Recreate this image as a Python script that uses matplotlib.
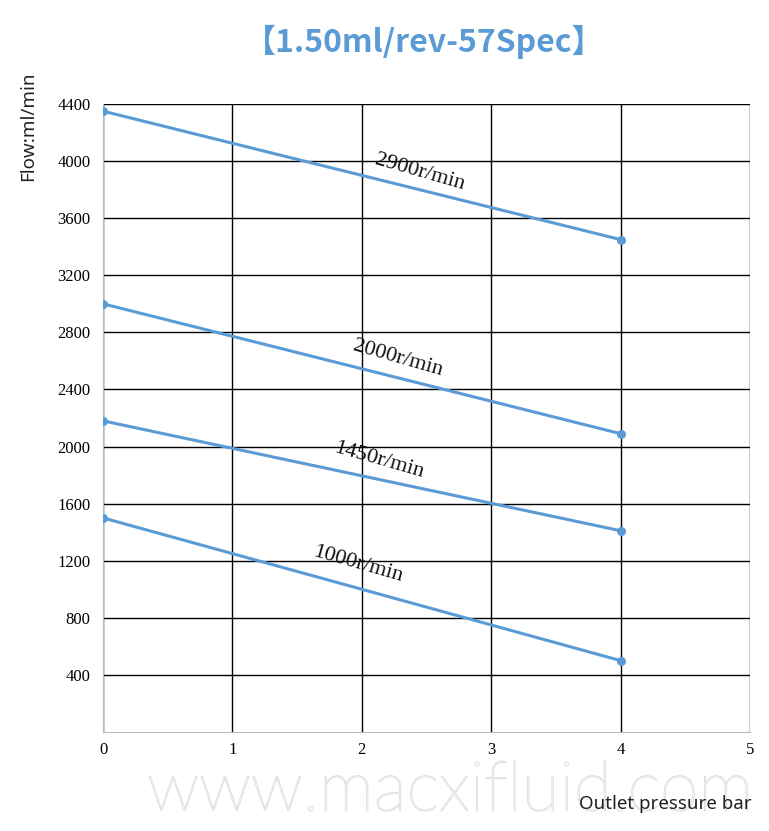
import matplotlib
matplotlib.use("Agg")
import matplotlib.pyplot as plt
import matplotlib.patheffects as pe

# pressure (bar) and flow (ml/min) per motor speed
pressure = [0, 4]
speeds = ["2900r/min", "2000r/min", "1450r/min", "1000r/min"]
flow_2900 = [4350, 3450]
flow_2000 = [3000, 2090]
flow_1450 = [2180, 1410]
flow_1000 = [1500, 500]
label_pos = [(2.45, 3920), (2.28, 2620), (2.13, 1905), (1.97, 1175)]

x_ticks = [0, 1, 2, 3, 4, 5]
y_ticks = [400, 800, 1200, 1600, 2000, 2400, 2800, 3200, 3600, 4000, 4400]

blue = "#5b9bd5"

fig = plt.figure(figsize=(7.69, 8.31), dpi=100)

# watermark behind everything
fig.text(450 / 769, 1 - 792 / 831, "www.macxifluid.com", ha="center", va="center",
         fontsize=50, family=["Lato", "DejaVu Sans"], fontweight="light",
         color="#f6f6f6", zorder=0,
         path_effects=[pe.withStroke(linewidth=1.0, foreground="#dadada")])

ax = fig.add_axes([103 / 769, 1 - 732 / 831, 647 / 769, 628 / 831])
ax.patch.set_alpha(0)

for flow in [flow_2900, flow_2000, flow_1450, flow_1000]:
    ax.plot(pressure, flow, color=blue, lw=2.2, marker="o", ms=5.5, zorder=3)

for name, (x, y) in zip(speeds, label_pos):
    ax.text(x, y, name, rotation=-16, ha="center", va="center",
            fontsize=16, family="Liberation Serif", color="#111111", zorder=4)

ax.set_xlim(0, 5)
ax.set_ylim(0, 4400)
ax.set_xticks(x_ticks)
ax.set_yticks(y_ticks)
ax.set_xticklabels([str(v) for v in x_ticks], family="Liberation Serif", fontsize=12)
ax.set_yticklabels([str(v) for v in y_ticks], family="Liberation Serif", fontsize=12)
ax.tick_params(axis="y", length=0, pad=9)
ax.tick_params(axis="x", length=0, pad=7)
ax.grid(True, color="black", lw=1)
for side in ["top", "right"]:
    ax.spines[side].set_visible(False)
for side in ["left", "bottom"]:
    ax.spines[side].set_color("#bbbbbb")

fig.text(424 / 769, 1 - 42 / 831, "【1.50ml/rev-57Spec】", ha="center", va="center",
         fontsize=23, fontweight="bold", color=blue,
         family=["Noto Sans CJK SC", "DejaVu Sans"])
fig.text(28 / 769, 1 - 126 / 831, "Flow:ml/min", rotation=90, ha="center", va="center",
         fontsize=13.5, family="Noto Sans", color="#222222")
fig.text(752 / 769, 1 - 804 / 831, "Outlet pressure bar", ha="right", va="center",
         fontsize=13.5, family="Noto Sans", color="#222222")

fig.savefig("out.png", dpi=100)
